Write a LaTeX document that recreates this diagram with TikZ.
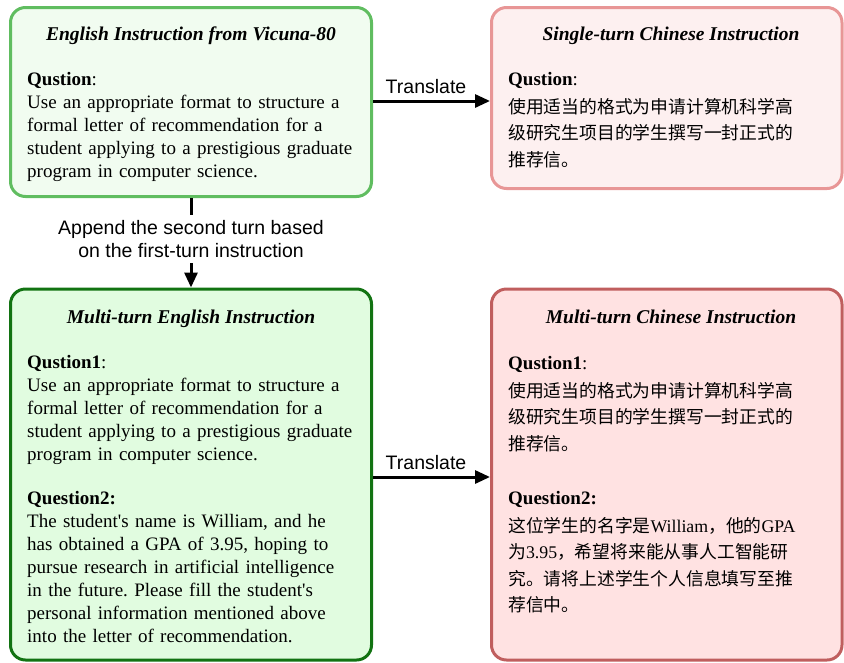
\documentclass[tikz,border=0pt]{standalone}
\usepackage{fontspec}
\setmainfont{Liberation Serif}
\newfontfamily\sansf{Liberation Sans}
\newfontfamily\cjk{Noto Sans CJK SC}
\newcommand{\zhtext}[1]{{\cjk #1}}
\usetikzlibrary{arrows.meta}
\frenchspacing
\definecolor{gAdraw}{RGB}{96,189,96}
\definecolor{gAfill}{RGB}{241,252,240}
\definecolor{gBdraw}{RGB}{18,115,18}
\definecolor{gBfill}{RGB}{225,252,224}
\definecolor{rAdraw}{RGB}{232,150,150}
\definecolor{rAfill}{RGB}{253,240,240}
\definecolor{rBdraw}{RGB}{192,94,94}
\definecolor{rBfill}{RGB}{255,226,226}
\tikzset{
  every node/.style={inner sep=0pt},
  panel/.style={rectangle, line width=3pt, rounded corners=15pt},
  ttl/.style={font=\fontsize{19.5}{23}\selectfont\bfseries\itshape, anchor=base},
  body/.style={font=\fontsize{19}{23}\selectfont\frenchspacing, anchor=north west, text width=360pt, align=left},
  cbody/.style={font=\fontsize{19}{26.5}\selectfont, anchor=north west, text width=340pt, align=left},
  lbl/.style={font=\sansf\fontsize{19.5}{23}\selectfont},
  arr/.style={line width=3pt, -{Triangle[length=15pt,width=13pt]}},
}
\begin{document}
\begin{tikzpicture}[x=1pt,y=-1pt]
\useasboundingbox (0,0) rectangle (844,662);
% boxes
\node[panel, draw=gAdraw, fill=gAfill, minimum width=361pt, minimum height=189pt] (b1) at (191,102) {};
\node[panel, draw=rAdraw, fill=rAfill, minimum width=350.5pt, minimum height=181pt] (b2) at (666.75,98) {};
\node[panel, draw=gBdraw, fill=gBfill, minimum width=361pt, minimum height=371pt] (b3) at (191,474.5) {};
\node[panel, draw=rBdraw, fill=rBfill, minimum width=350.5pt, minimum height=371pt] (b4) at (666.75,474.5) {};
% titles
\node[ttl] (t1) at (191,40) {English Instruction from Vicuna-80};
\node[ttl] (t2) at (671,40) {Single-turn Chinese Instruction};
\node[ttl] (t3) at (191,323) {Multi-turn English Instruction};
\node[ttl] (t4) at (671,323) {Multi-turn Chinese Instruction};
% bodies
\node[body] (q1) at (27,68.9) {\strut\textbf{Qustion}:\\
Use an appropriate format to structure a\\
formal letter of recommendation for a\\
student applying to a prestigious graduate\\
program in computer science.};
\node[cbody] (q2) at (508,66.3) {\strut\textbf{Qustion}:\\[1.5pt]
{\fontsize{17.8}{26.5}\selectfont\zhtext{使用适当的格式为申请计算机科学高}}\\
{\fontsize{17.8}{26.5}\selectfont\zhtext{级研究生项目的学生撰写一封正式的}}\\
{\fontsize{17.8}{26.5}\selectfont\zhtext{推荐信。}}};
\node[body] (q3) at (27,351.9) {\strut\textbf{Qustion1}:\\
Use an appropriate format to structure a\\
formal letter of recommendation for a\\
student applying to a prestigious graduate\\
program in computer science.\\[21pt]
\textbf{Question2:}\\
The student\textquotesingle s name is William, and he\\
has obtained a GPA of 3.95, hoping to\\
pursue research in artificial intelligence\\
in the future. Please fill the student\textquotesingle s\\
personal information mentioned above\\
into the letter of recommendation.};
\node[cbody] (q4) at (508,350.3) {\strut\textbf{Qustion1}:\\[1.5pt]
{\fontsize{17.8}{26.5}\selectfont\zhtext{使用适当的格式为申请计算机科学高}}\\
{\fontsize{17.8}{26.5}\selectfont\zhtext{级研究生项目的学生撰写一封正式的}}\\
{\fontsize{17.8}{26.5}\selectfont\zhtext{推荐信。}}\\[27.5pt]
\textbf{Question2:}\\[1.5pt]
{\fontsize{17.8}{26.5}\selectfont\zhtext{这位学生的名字是}William\zhtext{，他的}GPA}\\
{\fontsize{17.8}{26.5}\selectfont\zhtext{为}3.95\zhtext{，希望将来能从事人工智能研}}\\
{\fontsize{17.8}{26.5}\selectfont\zhtext{究。请将上述学生个人信息填写至推}}\\
{\fontsize{17.8}{26.5}\selectfont\zhtext{荐信中。}}};
% connectors
\node[lbl, anchor=base] (tr1) at (426,93.5) {Translate};
\node[lbl, anchor=base] (tr2) at (426,469.5) {Translate};
\draw[arr] ([yshift=1pt]b1.east) -- ([yshift=1pt]b1.east -| b2.west);
\draw[arr] ([yshift=-2.5pt]b3.east) -- ([yshift=-2.5pt]b3.east -| b4.west);
\node[lbl, align=center, minimum height=48pt] (ap) at (191,239) {Append the second turn based\\on the first-turn instruction};
\draw[line width=3pt] (b1.south) -- (ap.north);
\draw[arr] (ap.south) -- (b3.north);
\end{tikzpicture}
\end{document}
